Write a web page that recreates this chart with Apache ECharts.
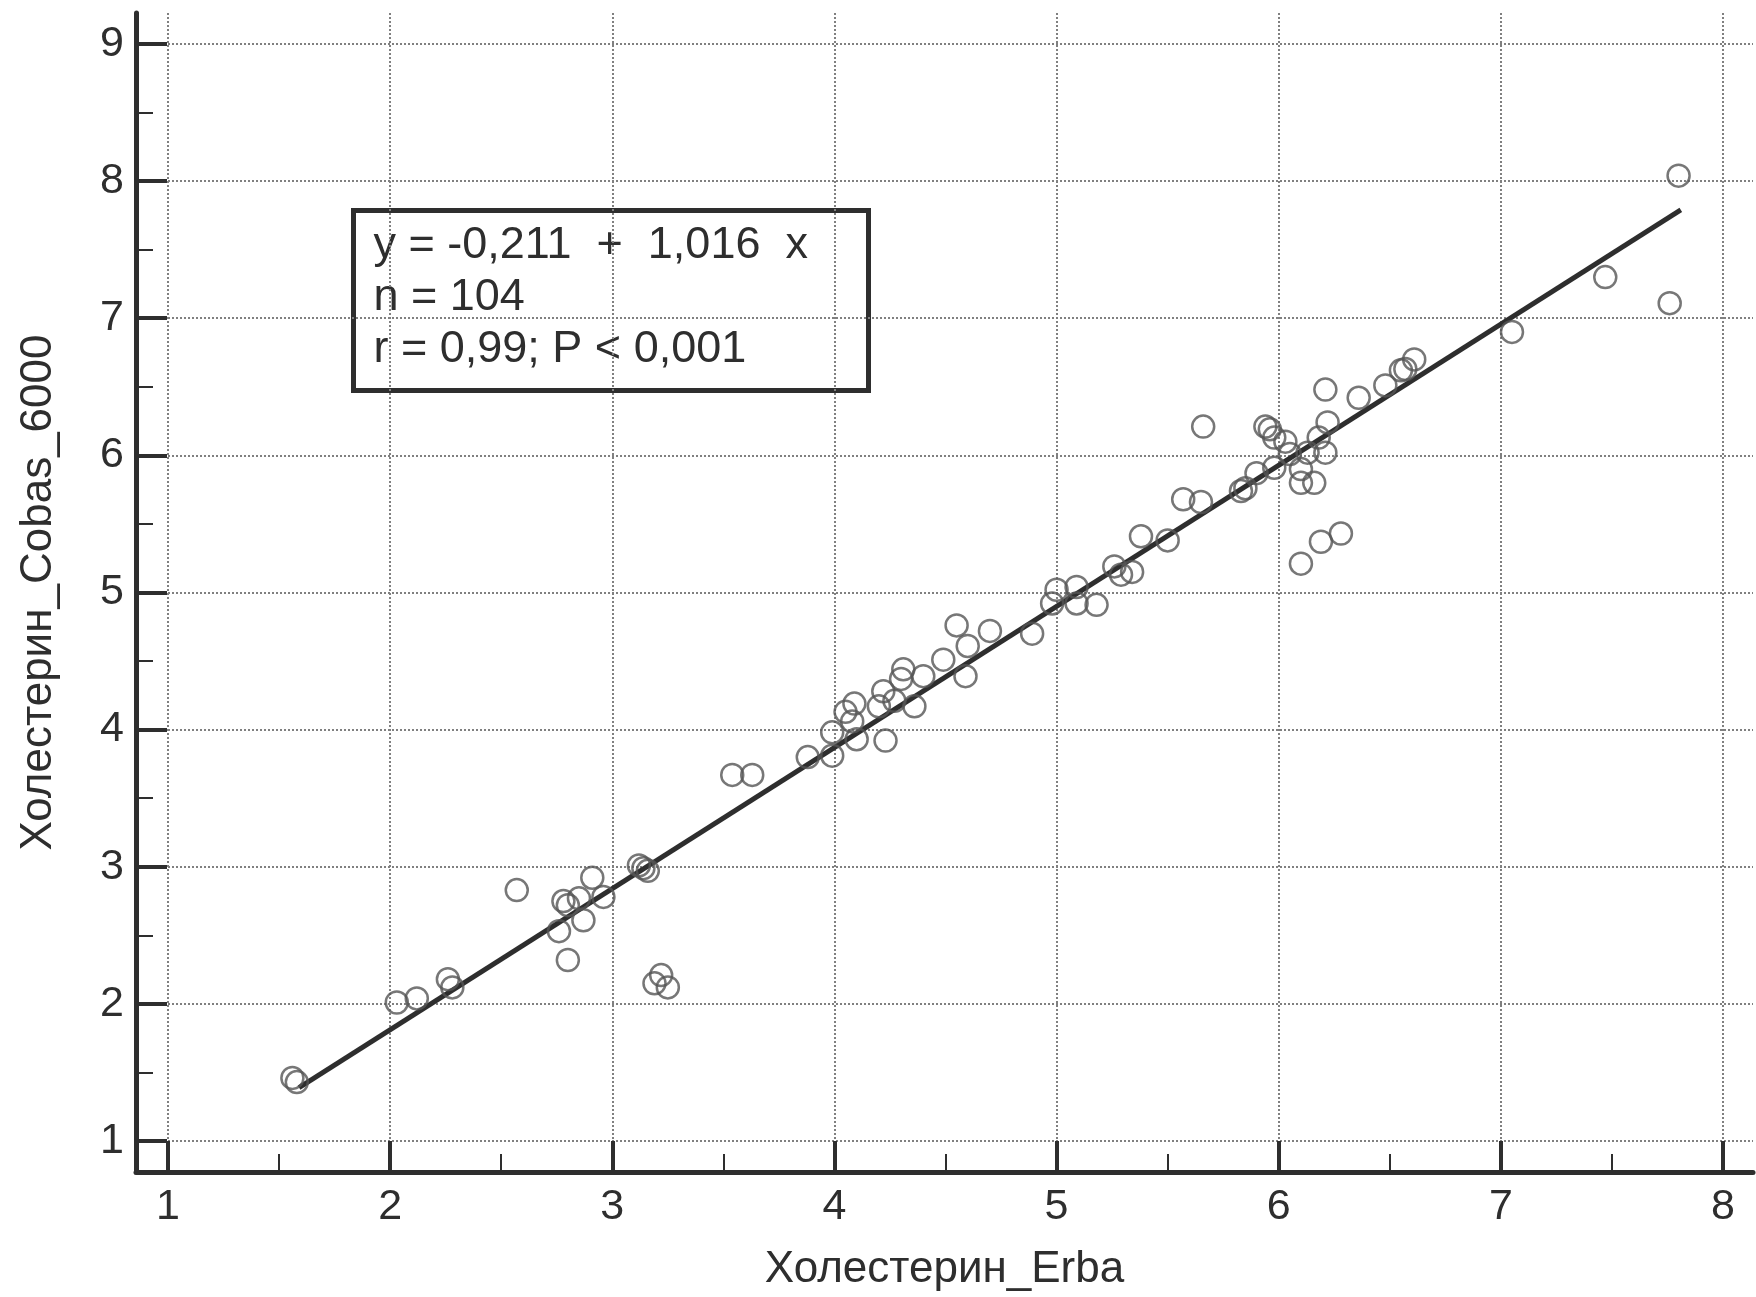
<!DOCTYPE html>
<html>
<head>
<meta charset="utf-8">
<script src="https://cdn.jsdelivr.net/npm/echarts@6/dist/echarts.min.js"></script>
<style>
  html, body { margin: 0; padding: 0; background: #fff; }
  #chart { width: 1756px; height: 1297px; }
</style>
</head>
<body>
<div id="chart"></div>
<script>
// tick values
const xTicks = [1, 2, 3, 4, 5, 6, 7, 8]
const xMinorTicks = [1.5, 2.5, 3.5, 4.5, 5.5, 6.5, 7.5]
const yTicks = [1, 2, 3, 4, 5, 6, 7, 8, 9]
const yMinorTicks = [1.5, 2.5, 3.5, 4.5, 5.5, 6.5, 7.5, 8.5]

// Холестерин_Erba (x) / Холестерин_Cobas_6000 (y)
const erba = [1.56, 1.58, 2.03, 2.12, 2.26, 2.28, 2.57, 2.76, 2.78, 2.80, 2.80, 2.85, 2.87, 2.91, 2.96, 3.12, 3.14, 3.16, 3.22, 3.19, 3.25,
  3.54, 3.63, 3.88, 3.99, 3.99, 4.05, 4.09, 4.10, 4.08, 4.20, 4.22, 4.27, 4.23, 4.30, 4.31, 4.36, 4.40, 4.49, 4.55, 4.60, 4.59, 4.70, 4.89, 4.98, 5.00, 5.09, 5.09, 5.18, 5.26, 5.29, 5.34,
  5.38, 5.50, 5.57, 5.65, 5.66, 5.83, 5.85, 5.90, 5.94, 5.96, 5.98, 6.03, 6.05, 5.98, 6.10, 6.10, 6.16, 6.13, 6.21, 6.22, 6.21, 6.19, 6.28, 6.10, 6.18, 6.36, 6.48, 6.55, 6.61, 6.57, 7.05, 7.47, 7.76, 7.80]
const cobas = [1.46, 1.43, 2.01, 2.04, 2.18, 2.12, 2.83, 2.53, 2.75, 2.72, 2.32, 2.77, 2.61, 2.92, 2.78, 3.01, 2.99, 2.97, 2.21, 2.15, 2.12,
  3.67, 3.67, 3.80, 3.98, 3.81, 4.13, 4.19, 3.93, 4.06, 4.17, 4.28, 4.21, 3.92, 4.37, 4.44, 4.17, 4.39, 4.51, 4.76, 4.61, 4.39, 4.72, 4.70, 4.92, 5.02, 5.04, 4.92, 4.91, 5.19, 5.13, 5.15,
  5.41, 5.38, 5.68, 5.66, 6.21, 5.74, 5.76, 5.87, 6.21, 6.19, 6.13, 6.10, 6.01, 5.91, 5.90, 5.80, 5.80, 6.02, 6.02, 6.24, 6.48, 5.37, 5.43, 5.21, 6.13, 6.42, 6.51, 6.62, 6.70, 6.63, 6.90, 7.30, 7.11, 8.04]

// regression line ends
const fitX = [1.59, 7.81]
const fitY = [1.39, 7.79]

const statLines = ['y = -0,211  +  1,016  x', 'n = 104', 'r = 0,99; P < 0,001']

const FONT = '"Liberation Sans", Arial, sans-serif'
const INK = '#2e2e2e'
const GRID = '#808080'

const points = erba.map((x, i) => [x, cobas[i]])
const fitLine = fitX.map((x, i) => [x, fitY[i]])

const chart = echarts.init(document.getElementById('chart'))

chart.setOption({
  animation: false,
  backgroundColor: '#fff',
  grid: {
    left: 136,
    right: 3,
    top: 13,
    bottom: 124
  },
  xAxis: [
    {
      type: 'value',
      position: 'bottom',
      min: 0.856,
      max: 8.135,
      name: 'Холестерин_Erba',
      nameLocation: 'middle',
      nameGap: 76,
      nameTextStyle: { fontFamily: FONT, fontSize: 44, color: INK },
      axisLine: { onZero: false, lineStyle: { color: INK, width: 5 } },
      axisTick: { inside: true, length: 31, customValues: xTicks, lineStyle: { color: INK, width: 4 } },
      axisLabel: { customValues: xTicks, margin: 14, fontFamily: FONT, fontSize: 43, color: INK },
      splitLine: { show: true, lineStyle: { color: GRID, width: 2, type: 'dotted' } }
    },
    {
      // minor ticks only
      type: 'value',
      position: 'bottom',
      min: 0.856,
      max: 8.135,
      axisLine: { show: false, onZero: false },
      axisTick: { inside: true, length: 18, customValues: xMinorTicks, lineStyle: { color: INK, width: 2 } },
      axisLabel: { show: false },
      splitLine: { show: false }
    }
  ],
  yAxis: [
    {
      type: 'value',
      position: 'left',
      min: 0.774,
      max: 9.226,
      name: 'Холестерин_Cobas_6000',
      nameLocation: 'middle',
      nameGap: 75,
      nameTextStyle: { fontFamily: FONT, fontSize: 44, color: INK },
      axisLine: { onZero: false, lineStyle: { color: INK, width: 5 } },
      axisTick: { inside: true, length: 31, customValues: yTicks, lineStyle: { color: INK, width: 4 } },
      axisLabel: { customValues: yTicks, margin: 12, fontFamily: FONT, fontSize: 43, color: INK },
      splitLine: { show: true, lineStyle: { color: GRID, width: 2, type: 'dotted' } }
    },
    {
      type: 'value',
      position: 'left',
      min: 0.774,
      max: 9.226,
      axisLine: { show: false, onZero: false },
      axisTick: { inside: true, length: 17, customValues: yMinorTicks, lineStyle: { color: INK, width: 2 } },
      axisLabel: { show: false },
      splitLine: { show: false }
    }
  ],
  series: [
    {
      type: 'line',
      data: fitLine,
      symbol: 'none',
      lineStyle: { color: INK, width: 5 },
      z: 3
    },
    {
      type: 'scatter',
      data: points,
      symbol: 'circle',
      symbolSize: 22,
      itemStyle: { color: 'rgba(255,255,255,0)', borderColor: '#555', borderWidth: 2.5 },
      z: 4
    }
  ],
  graphic: [
    {
      type: 'group',
      left: 351,
      top: 208,
      z: 100,
      children: [
        {
          type: 'rect',
          shape: { x: 0, y: 0, width: 515, height: 180 },
          style: { fill: '#fff', stroke: INK, lineWidth: 5 }
        },
        {
          type: 'text',
          x: 20,
          y: 9,
          style: {
            text: statLines.join('\n'),
            font: '45px ' + FONT,
            lineHeight: 52,
            fill: INK
          }
        }
      ]
    }
  ]
})
</script>
</body>
</html>
